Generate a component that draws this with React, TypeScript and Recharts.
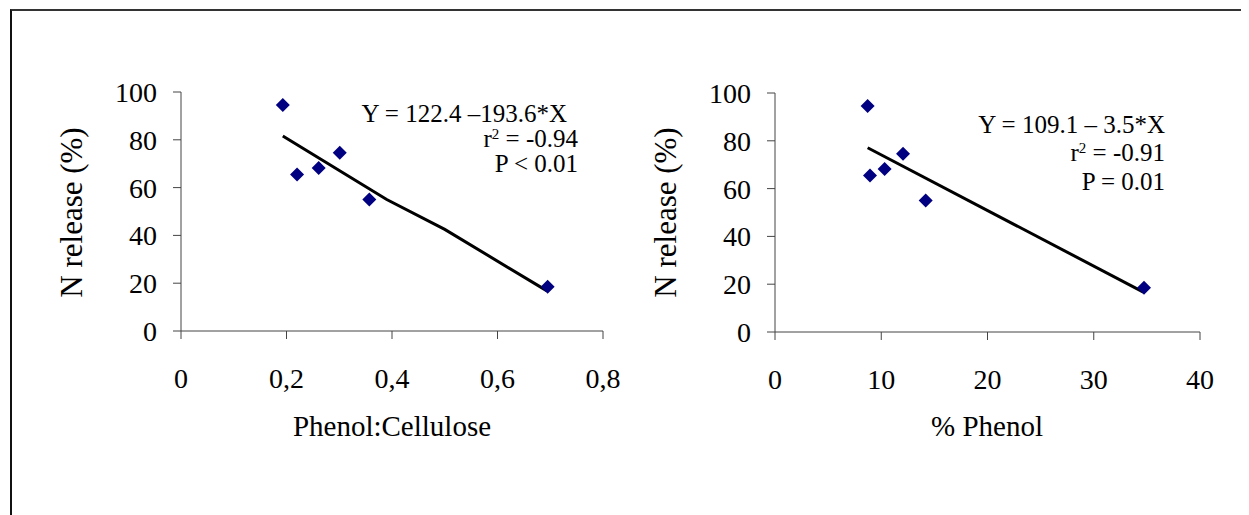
import React from 'react';
import { ScatterChart, Scatter, XAxis, YAxis } from 'recharts';

// N release vs. phenol:cellulose ratio and % phenol
const phenolCellulose = [0.193, 0.22, 0.261, 0.301, 0.357, 0.695];
const phenolPercent = [8.72, 8.94, 10.32, 12.05, 14.18, 34.73];
const nRelease = [94.6, 65.5, 68.2, 74.6, 55.0, 18.5];

// fitted lines as drawn in the figure
const trendLeftX = [0.193, 0.39, 0.5, 0.693];
const trendLeftY = [81.6, 55.0, 42.5, 16.9];
const trendRightX = [8.72, 34.67];
const trendRightY = [77.1, 16.7];

const leftTicks = [0, 0.2, 0.4, 0.6, 0.8];
const rightTicks = [0, 10, 20, 30, 40];
const yTicks = [0, 20, 40, 60, 80, 100];

const FONT = "'Liberation Serif', 'Times New Roman', serif";
const MARKER = '#000080';

const zip = (xs: number[], ys: number[]) => xs.map((x, i) => ({ x, y: ys[i] }));

const Diamond = (props: any) => {
  const { cx, cy } = props;
  const r = 7;
  return (
    <polygon
      points={`${cx},${cy - r} ${cx + r},${cy} ${cx},${cy + r} ${cx - r},${cy}`}
      fill={MARKER}
    />
  );
};

const NoDot = () => <g />;

const tickStyle = { fontFamily: FONT, fontSize: 28, fill: '#000' };

interface PanelProps {
  left: number;
  xs: number[];
  trendX: number[];
  trendY: number[];
  ticks: number[];
  domain: [number, number];
  fmt: (v: number) => string;
  margin: { top: number; right: number; bottom: number; left: number };
}

const Panel = ({ left, xs, trendX, trendY, ticks, domain, fmt, margin }: PanelProps) => (
  <div style={{ position: 'absolute', left, top: 0 }}>
    <ScatterChart width={620} height={500} margin={margin}>
      <XAxis
        type="number"
        dataKey="x"
        domain={domain}
        ticks={ticks}
        tickFormatter={fmt}
        tick={tickStyle}
        tickSize={8}
        tickMargin={29}
        height={60}
        stroke="#444"
        allowDataOverflow
      />
      <YAxis
        type="number"
        dataKey="y"
        domain={[0, 100]}
        ticks={yTicks}
        tick={tickStyle}
        tickSize={8}
        tickMargin={16}
        width={60}
        stroke="#444"
      />
      <Scatter
        data={zip(trendX, trendY)}
        line={{ stroke: '#000', strokeWidth: 3 }}
        shape={NoDot}
        isAnimationActive={false}
      />
      <Scatter data={zip(xs, nRelease)} shape={Diamond} isAnimationActive={false} />
    </ScatterChart>
  </div>
);

const text = (extra: React.CSSProperties): React.CSSProperties => ({
  position: 'absolute',
  fontFamily: FONT,
  lineHeight: 1,
  whiteSpace: 'nowrap',
  color: '#000',
  ...extra,
});

const Sup = ({ children }: { children: React.ReactNode }) => (
  <span style={{ fontSize: 15, position: 'relative', top: -8 }}>{children}</span>
);

const YTitle = ({ cx }: { cx: number }) => (
  <div
    style={text({
      fontSize: 31,
      width: 300,
      textAlign: 'center',
      left: cx - 150,
      top: 204 - 15.5,
      transform: 'rotate(-90deg)',
    })}
  >
    N release (%)
  </div>
);

export default function App() {
  return (
    <div style={{ position: 'relative', width: 1241, height: 507, overflow: 'hidden', background: '#fff' }}>
      <div
        style={{
          position: 'absolute',
          left: 2,
          top: 1,
          width: 1300,
          height: 600,
          borderTop: '2px solid #333',
          borderLeft: '2px solid #111',
        }}
      />
      <Panel
        left={0}
        xs={phenolCellulose}
        trendX={trendLeftX}
        trendY={trendLeftY}
        ticks={leftTicks}
        domain={[0, 0.8]}
        fmt={(v) => String(v).replace('.', ',')}
        margin={{ top: 84, right: 25, bottom: 117, left: 113 }}
      />
      <Panel
        left={612}
        xs={phenolPercent}
        trendX={trendRightX}
        trendY={trendRightY}
        ticks={rightTicks}
        domain={[0, 40]}
        fmt={(v) => String(v)}
        margin={{ top: 85, right: 40, bottom: 116, left: 95 }}
      />

      <YTitle cx={63} />
      <YTitle cx={657} />

      <div style={text({ fontSize: 29, width: 400, textAlign: 'center', left: 184, top: 404 })}>
        Phenol:Cellulose
      </div>
      <div style={text({ fontSize: 29, width: 400, textAlign: 'center', left: 779, top: 404 })}>
        % Phenol
      </div>

      <div style={text({ fontSize: 25, right: 1241 - 559, top: 93 })}>Y = 122.4 –193.6*X</div>
      <div style={text({ fontSize: 25, right: 1241 - 570, top: 118 })}>
        r<Sup>2</Sup> = -0.94
      </div>
      <div style={text({ fontSize: 25, right: 1241 - 570, top: 143 })}>P &lt; 0.01</div>

      <div style={text({ fontSize: 25, right: 1241 - 1157, top: 104 })}>Y = 109.1 – 3.5*X</div>
      <div style={text({ fontSize: 25, right: 1241 - 1157, top: 132 })}>
        r<Sup>2</Sup> = -0.91
      </div>
      <div style={text({ fontSize: 25, right: 1241 - 1157, top: 161 })}>P = 0.01</div>
    </div>
  );
}
